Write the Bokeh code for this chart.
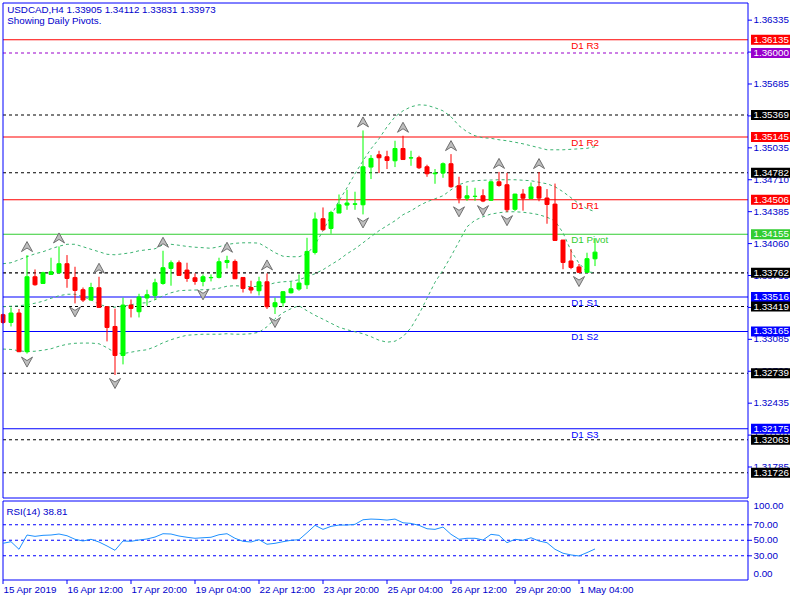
import numpy as np
from bokeh.plotting import figure
from bokeh.models import Range1d, ColumnDataSource
from bokeh.core.properties import value
from bokeh.embed import file_html
from bokeh.resources import INLINE

# ---------------- data ----------------
symbol = "USDCAD"
timeframe = "H4"

opens = [1.33336, 1.33257, 1.33353, 1.32959, 1.33722, 1.33654, 1.33746, 1.33763, 1.33855, 1.33715,
         1.33590, 1.33485, 1.33610, 1.33417, 1.33216, 1.32921, 1.33434, 1.33366, 1.33506, 1.33532,
         1.33654, 1.33807, 1.33865, 1.33790, 1.33712, 1.33675, 1.33712, 1.33715, 1.33868, 1.33878,
         1.33715, 1.33613, 1.33580, 1.33671, 1.33417, 1.33458, 1.33559, 1.33597, 1.33641, 1.33970,
         1.34313, 1.34214, 1.34371, 1.34452, 1.34460, 1.34455, 1.34839, 1.34964, 1.34944, 1.34903,
         1.35028, 1.34931, 1.34934, 1.34842, 1.34771, 1.34778, 1.34873, 1.34649, 1.34522, 1.34540,
         1.34547, 1.34501, 1.34689, 1.34659, 1.34409, 1.34564, 1.34519, 1.34639, 1.34524, 1.34462,
         1.34096, 1.33883, 1.33822, 1.33768, 1.33905]
highs = [1.33346, 1.33410, 1.33394, 1.33943, 1.33797, 1.33773, 1.33916, 1.34031, 1.33943, 1.33824,
         1.33613, 1.33661, 1.33722, 1.33422, 1.33397, 1.33509, 1.33491, 1.33549, 1.33590, 1.33702,
         1.33987, 1.33888, 1.33888, 1.33865, 1.33756, 1.33746, 1.33746, 1.33916, 1.33936, 1.33898,
         1.33717, 1.33682, 1.33722, 1.33756, 1.33509, 1.33575, 1.33671, 1.33746, 1.34119, 1.34377,
         1.34428, 1.34394, 1.34560, 1.34608, 1.34588, 1.35212, 1.34961, 1.35005, 1.35005, 1.35107,
         1.35158, 1.35005, 1.34954, 1.34863, 1.34819, 1.34886, 1.34971, 1.34740, 1.34649, 1.34628,
         1.34613, 1.34695, 1.34790, 1.34780, 1.34567, 1.34615, 1.34682, 1.34788, 1.34615, 1.34671,
         1.34096, 1.34004, 1.33852, 1.33967, 1.34112]
lows = [1.33244, 1.33216, 1.32955, 1.32940, 1.33631, 1.33651, 1.33743, 1.33758, 1.33610, 1.33451,
        1.33465, 1.33478, 1.33407, 1.33064, 1.32722, 1.32830, 1.33308, 1.33308, 1.33427, 1.33485,
        1.33641, 1.33631, 1.33732, 1.33671, 1.33641, 1.33625, 1.33675, 1.33705, 1.33807, 1.33699,
        1.33562, 1.33552, 1.33532, 1.33394, 1.33343, 1.33417, 1.33552, 1.33580, 1.33597, 1.33949,
        1.34191, 1.34160, 1.34371, 1.34404, 1.34404, 1.34357, 1.34717, 1.34778, 1.34819, 1.34839,
        1.34913, 1.34852, 1.34819, 1.34740, 1.34669, 1.34730, 1.34628, 1.34470, 1.34496, 1.34496,
        1.34482, 1.34496, 1.34639, 1.34380, 1.34392, 1.34395, 1.34519, 1.34491, 1.34262, 1.34089,
        1.33799, 1.33799, 1.33760, 1.33765, 1.33831]
closes = [1.33257, 1.33353, 1.32959, 1.33722, 1.33641, 1.33763, 1.33773, 1.33855, 1.33705, 1.33583,
          1.33485, 1.33613, 1.33410, 1.33206, 1.32921, 1.33434, 1.33400, 1.33516, 1.33539, 1.33661,
          1.33814, 1.33865, 1.33736, 1.33705, 1.33675, 1.33722, 1.33715, 1.33875, 1.33888, 1.33702,
          1.33603, 1.33587, 1.33671, 1.33417, 1.33458, 1.33570, 1.33600, 1.33658, 1.33980, 1.34310,
          1.34201, 1.34377, 1.34455, 1.34473, 1.34465, 1.34842, 1.34927, 1.34934, 1.34906, 1.35028,
          1.34916, 1.34934, 1.34832, 1.34771, 1.34778, 1.34873, 1.34639, 1.34522, 1.34547, 1.34542,
          1.34493, 1.34689, 1.34652, 1.34404, 1.34564, 1.34522, 1.34636, 1.34523, 1.34458, 1.34092,
          1.33868, 1.33817, 1.33768, 1.33906, 1.33973]

bb_upper = [1.33855, 1.33865, 1.33895, 1.33926, 1.33956, 1.33977, 1.34007, 1.34033, 1.34053, 1.34053,
            1.34028, 1.34002, 1.33977, 1.33951, 1.33946, 1.33956, 1.33967, 1.33987, 1.33997, 1.34007,
            1.34048, 1.34053, 1.34043, 1.34031, 1.34023, 1.34018, 1.34012, 1.34028, 1.34051, 1.34063,
            1.34068, 1.34068, 1.34065, 1.34018, 1.33967, 1.33931, 1.33926, 1.33926, 1.33956, 1.34048,
            1.34191, 1.34343, 1.34496, 1.34628, 1.34771, 1.34903, 1.35025, 1.35127, 1.35249, 1.35351,
            1.35412, 1.35453, 1.35473, 1.35468, 1.35443, 1.35412, 1.35351, 1.35260, 1.35198, 1.35158,
            1.35137, 1.35132, 1.35117, 1.35107, 1.35092, 1.35076, 1.35056, 1.35036, 1.35015, 1.35015,
            1.35015, 1.35020, 1.35025, 1.35030, 1.35046]
bb_middle = [1.33417, 1.33422, 1.33427, 1.33437, 1.33453, 1.33473, 1.33503, 1.33529, 1.33544, 1.33544,
             1.33519, 1.33488, 1.33442, 1.33417, 1.33412, 1.33422, 1.33437, 1.33453, 1.33458, 1.33488,
             1.33529, 1.33559, 1.33580, 1.33585, 1.33587, 1.33590, 1.33595, 1.33605, 1.33626, 1.33631,
             1.33626, 1.33621, 1.33626, 1.33636, 1.33661, 1.33671, 1.33676, 1.33692, 1.33722, 1.33753,
             1.33794, 1.33845, 1.33895, 1.33956, 1.34007, 1.34068, 1.34130, 1.34191, 1.34242, 1.34292,
             1.34354, 1.34394, 1.34445, 1.34486, 1.34516, 1.34547, 1.34608, 1.34659, 1.34689, 1.34700,
             1.34705, 1.34707, 1.34710, 1.34710, 1.34710, 1.34705, 1.34700, 1.34684, 1.34669, 1.34639,
             1.34588, 1.34527, 1.34466, 1.34415, 1.34384]
bb_lower = [1.32986, 1.32982, 1.32969, 1.32959, 1.32964, 1.32974, 1.32989, 1.33015, 1.33035, 1.33045,
            1.33047, 1.33047, 1.33040, 1.33000, 1.32949, 1.32939, 1.32954, 1.32969, 1.32979, 1.33010,
            1.33050, 1.33081, 1.33106, 1.33127, 1.33132, 1.33137, 1.33137, 1.33137, 1.33142, 1.33137,
            1.33137, 1.33142, 1.33157, 1.33213, 1.33295, 1.33356, 1.33397, 1.33427, 1.33376, 1.33330,
            1.33290, 1.33249, 1.33208, 1.33183, 1.33162, 1.33142, 1.33112, 1.33076, 1.33056, 1.33066,
            1.33112, 1.33203, 1.33341, 1.33503, 1.33666, 1.33790, 1.33930, 1.34080, 1.34231, 1.34298,
            1.34333, 1.34361, 1.34374, 1.34384, 1.34384, 1.34379, 1.34369, 1.34354, 1.34328, 1.34292,
            1.34170, 1.33987, 1.33860, 1.33773, 1.33763]

rsi_period = 14
rsi_values = [46.1, 48.2, 38.4, 56.8, 55.1, 56.4, 56.8, 58.1, 55.9, 51.3,
              49.1, 51.3, 47.8, 42.7, 37.1, 49.1, 48.7, 50.4, 51.7, 54.2,
              58.5, 58.1, 55.5, 53.9, 52.6, 53.3, 53.9, 57.2, 58.5, 52.6,
              48.7, 47.8, 50.8, 44.9, 46.1, 48.2, 50.0, 50.8, 59.8, 69.3,
              64.1, 68.0, 69.7, 69.7, 70.6, 76.5, 77.4, 77.0, 76.1, 77.4,
              72.6, 71.8, 69.3, 64.9, 64.1, 67.1, 57.7, 51.3, 52.6, 52.6,
              50.4, 57.7, 56.4, 46.9, 51.3, 50.0, 53.3, 49.1, 46.9, 38.4,
              33.3, 31.1, 29.8, 34.1, 38.81]
rsi_levels = [30, 50, 70]
rsi_min, rsi_max = 0, 100

fractal_up_idx = [3, 7, 12, 20, 28, 33, 45, 50, 56, 62, 67]
fractal_down_idx = [3, 9, 14, 25, 34, 45, 57, 60, 63, 72]

pivot_names = ["D1 R3", "D1 R2", "D1 R1", "D1 Pivot", "D1 S1", "D1 S2", "D1 S3"]
pivot_values = [1.36135, 1.35145, 1.34506, 1.34155, 1.33516, 1.33165, 1.32175]
sr_levels = [1.35369, 1.34782, 1.33762, 1.33419, 1.32739, 1.32063, 1.31726]
round_level = 1.36000

time_tick_idx = [0, 8, 16, 24, 32, 40, 48, 56, 64, 72]
time_tick_labels = ["15 Apr 2019", "16 Apr 12:00", "17 Apr 20:00", "19 Apr 04:00", "22 Apr 12:00",
                    "23 Apr 20:00", "25 Apr 04:00", "26 Apr 12:00", "29 Apr 20:00", "1 May 04:00"]

price_tick_start = 1.31785
price_tick_step = 0.00325
price_tick_count = 15

# ---------------- layout / style ----------------
FONT = "Liberation Sans"
FS = "9.8px"
BLUE = "#0000FF"
TXT = "#0000CC"
BULL = "#00FF00"
BEAR = "#FF0000"
RED = "#FF0000"
GREEN = "#32CD32"
SBLUE = "#0000FF"
PURPLE = "#9900CC"
BAND = "#3CB371"
RSI_COL = "#1E90FF"

W, H = 800, 600
SX0, PX_BAR = 2.5, 8.0            # screen x of bar 0, pixels per bar
REF_P, REF_Y, PX_PRICE = 1.36135, 39.3, 9821.0   # price scale anchor
RSI_MID_Y, PX_RSI = 539.8, 0.775  # screen y of RSI 50, pixels per RSI unit


def xd(px):
    return (px - SX0) / PX_BAR


def pd(py):
    return REF_P - (py - REF_Y) / PX_PRICE


def rd(py):
    return 50 - (py - RSI_MID_Y) / PX_RSI


DX = 1.0 / PX_BAR
DY = 1.0 / PX_PRICE

p = figure(width=W, height=H, x_range=Range1d(xd(0), xd(W)), y_range=Range1d(pd(H), pd(0)),
           x_axis_location=None, y_axis_location=None, toolbar_location=None,
           output_backend="svg", min_border=0, outline_line_color=None,
           background_fill_color="white", border_fill_color="white")
p.extra_y_ranges = {"rsi": Range1d(rd(H), rd(0))}
p.grid.visible = False

LEFT, RIGHT = xd(2.5), xd(747.5)


def pivot_color(name):
    if "Pivot" in name:
        return GREEN
    if "R" in name:
        return RED
    return SBLUE


# ---- horizontal levels (inside the price panel) ----
p.segment(x0=[LEFT] * len(pivot_values), x1=[RIGHT] * len(pivot_values), y0=pivot_values, y1=pivot_values,
          line_color=[pivot_color(n) for n in pivot_names], line_width=1.1)
p.segment(x0=[LEFT] * len(sr_levels), x1=[RIGHT] * len(sr_levels), y0=sr_levels, y1=sr_levels,
          line_color="black", line_width=1.1, line_dash="3 3")
p.segment(x0=[LEFT], x1=[RIGHT], y0=[round_level], y1=[round_level],
          line_color=PURPLE, line_width=1.1, line_dash="3 3")

idx = np.arange(len(opens))
o = np.array(opens); h = np.array(highs); l = np.array(lows); c = np.array(closes)

# ---- Bollinger bands ----
for band in (bb_upper, bb_middle, bb_lower):
    p.line(idx, band, line_color=BAND, line_width=1, line_dash="3 3")

# ---- candles ----
colors = [BULL if cc >= oo else BEAR for oo, cc in zip(opens, closes)]
src = ColumnDataSource(dict(x=idx, h=h, l=l, top=np.maximum(o, c), bottom=np.minimum(o, c), color=colors))
p.segment(x0="x", y0="l", x1="x", y1="h", line_color="color", line_width=1, source=src)
p.vbar(x="x", width=0.5, top="top", bottom="bottom", fill_color="color", line_color="color",
       line_width=1, source=src)

# ---- fractal arrows ----
xs, ys = [], []
for i in fractal_up_idx:
    y0 = highs[i] + 3.5 * DY
    xs.append([i, i + 5.5 * DX, i, i - 5.5 * DX])
    ys.append([y0 + 10 * DY, y0, y0 + 3.5 * DY, y0])
for i in fractal_down_idx:
    y0 = lows[i] - 3.5 * DY
    xs.append([i, i + 5.5 * DX, i, i - 5.5 * DX])
    ys.append([y0 - 10 * DY, y0, y0 - 3.5 * DY, y0])
p.patches(xs, ys, fill_color="#BEBEBE", line_color="#707070", line_width=1)

# ---- frames ----
p.quad(left=[LEFT], right=[RIGHT], top=[pd(2.5)], bottom=[pd(497.5)],
       fill_color=None, line_color=BLUE, line_width=1)
p.quad(left=[LEFT], right=[RIGHT], top=[rd(500.5)], bottom=[rd(579.5)],
       fill_color=None, line_color=BLUE, line_width=1, y_range_name="rsi")

text_kw = dict(text_font=value(FONT), text_font_size=value(FS), text_align="left")

# ---- price axis (right) ----
pticks = [price_tick_start + k * price_tick_step for k in range(price_tick_count)]
p.segment(x0=[RIGHT] * len(pticks), x1=[xd(751.5)] * len(pticks), y0=pticks, y1=pticks,
          line_color=BLUE, line_width=1)
p.text(x=[xd(753)] * len(pticks), y=pticks, text=[f"{t:.5f}" for t in pticks],
       text_color=TXT, text_baseline="middle", **text_kw)

# ---- price tags ----
tag_vals = list(pivot_values) + list(sr_levels) + [round_level]
tag_cols = [pivot_color(n) for n in pivot_names] + ["black"] * len(sr_levels) + [PURPLE]
p.rect(x=[xd(770)] * len(tag_vals), y=tag_vals, width=39, height=10,
       width_units="screen", height_units="screen", fill_color=tag_cols, line_color=None)
p.text(x=[xd(753)] * len(tag_vals), y=tag_vals, text=[f"{v:.5f}" for v in tag_vals],
       text_color="white", text_baseline="middle", **text_kw)

# ---- pivot names ----
p.text(x=[xd(570.7)] * len(pivot_values), y=pivot_values, text=pivot_names,
       text_color=[pivot_color(n) for n in pivot_names], text_baseline="top", **text_kw)

# ---- header ----
header = f"{symbol},{timeframe}  {opens[-1]:.5f} {highs[-1]:.5f} {lows[-1]:.5f} {closes[-1]:.5f}"
p.text(x=[xd(6.7), xd(6.7)], y=[pd(3.0), pd(14.7)], text=[header, "Showing Daily Pivots."],
       text_color=TXT, text_baseline="top", **text_kw)

# ---- RSI panel ----
p.segment(x0=[LEFT] * len(rsi_levels), x1=[RIGHT] * len(rsi_levels), y0=rsi_levels, y1=rsi_levels,
          line_color=BLUE, line_width=1.1, line_dash="3 3", y_range_name="rsi")
p.line(idx, rsi_values, line_color=RSI_COL, line_width=1, y_range_name="rsi")
p.segment(x0=[RIGHT] * len(rsi_levels), x1=[xd(751.5)] * len(rsi_levels), y0=rsi_levels, y1=rsi_levels,
          line_color=BLUE, line_width=1, y_range_name="rsi")
p.text(x=[xd(753)] * len(rsi_levels), y=rsi_levels, text=[f"{v:.2f}" for v in rsi_levels],
       text_color=TXT, text_baseline="middle", y_range_name="rsi", **text_kw)
p.text(x=[xd(753), xd(753)], y=[rsi_max, rsi_min], text=[f"{rsi_max:.2f}", f"{rsi_min:.2f}"],
       y_offset=[4, -5], text_color=TXT, text_baseline="middle", y_range_name="rsi", **text_kw)
p.text(x=[xd(6)], y=[rsi_max], y_offset=[4], text=[f"RSI({rsi_period}) {rsi_values[-1]:.2f}"],
       text_color=TXT, text_baseline="top", y_range_name="rsi", **text_kw)

# ---- time axis ----
tx = [float(t) for t in time_tick_idx]
p.segment(x0=tx, x1=tx, y0=[rd(579.5)] * len(tx), y1=[rd(583.5)] * len(tx),
          line_color=BLUE, line_width=1, y_range_name="rsi")
p.text(x=tx, y=[rd(583.0)] * len(tx), text=time_tick_labels, x_offset=[0.5] * len(tx),
       text_color=TXT, text_baseline="top", y_range_name="rsi", **text_kw)

open("out.html", "w").write(file_html(p, INLINE))
